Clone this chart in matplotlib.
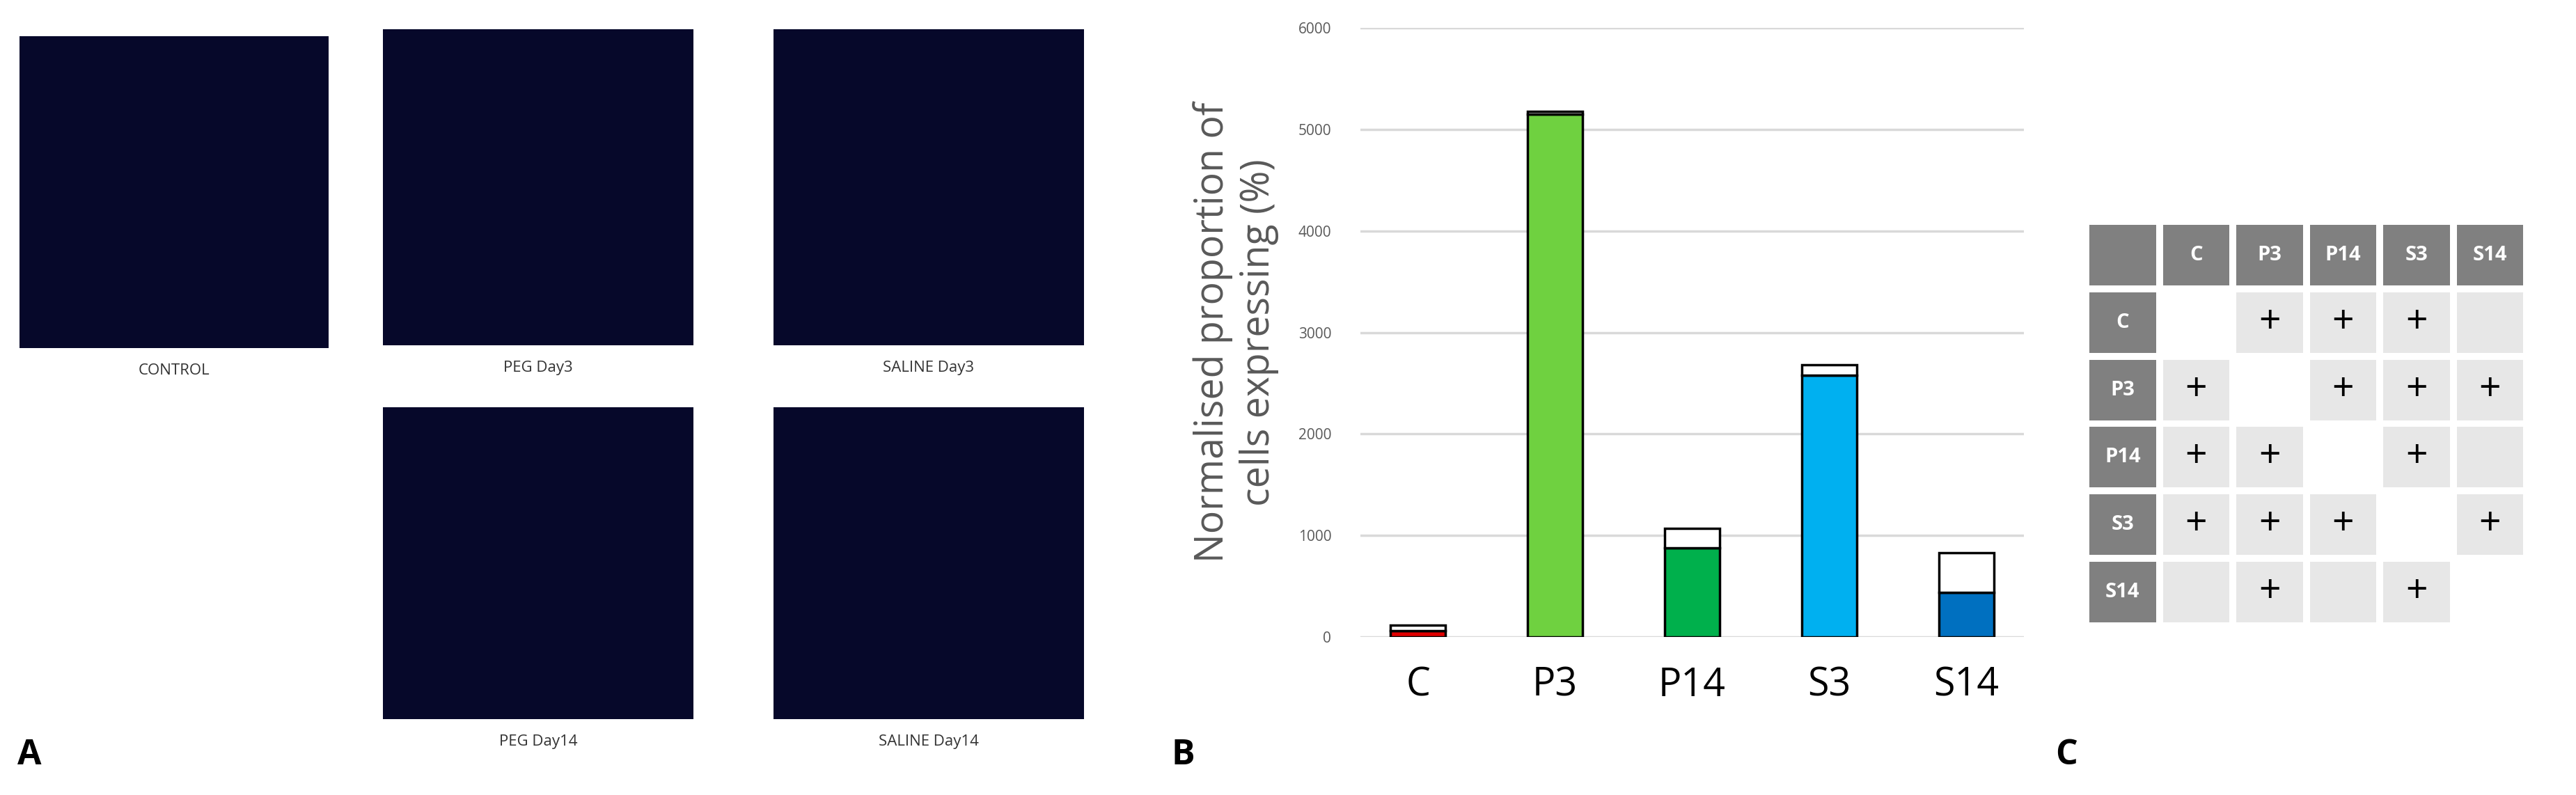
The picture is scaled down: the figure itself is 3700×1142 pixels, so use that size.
import matplotlib
matplotlib.use("Agg")
import matplotlib.pyplot as plt
from matplotlib.patches import Rectangle

W, H = 3700, 1142
categories = ["C", "P3", "P14", "S3", "S14"]
means = [60, 5150, 880, 2580, 440]
tops = [120, 5180, 1070, 2680, 830]
colors = ["#e00000", "#6fd140", "#00b04c", "#00b0f0", "#0070c0"]
yticks = [0, 1000, 2000, 3000, 4000, 5000, 6000]
sig = [[0, 1, 1, 1, 0],
       [1, 0, 1, 1, 1],
       [1, 1, 0, 1, 0],
       [1, 1, 1, 0, 1],
       [0, 1, 0, 1, 0]]
panels = [("CONTROL", 28, 52, 444, 448),
          ("PEG Day3", 550, 42, 446, 454),
          ("SALINE Day3", 1111, 42, 446, 454),
          ("PEG Day14", 550, 585, 446, 448),
          ("SALINE Day14", 1111, 585, 446, 448)]

fig = plt.figure(figsize=(W/100, H/100), dpi=100)
plt.rcParams['font.family'] = ['Open Sans', 'DejaVu Sans']

def fx(x): return x / W
def fy(y): return 1 - y / H

# Panel A: image placeholders
for name, x, y, w, h in panels:
    ax = fig.add_axes([fx(x), fy(y + h), w / W, h / H])
    ax.set_facecolor("#06082a")
    ax.set_xticks([]); ax.set_yticks([])
    for s in ax.spines.values(): s.set_visible(False)
    fig.text(fx(x + w / 2), fy(y + h + 32), name, ha="center", va="center",
             fontsize=16, color="#333333")

# Panel B: bar chart
ax = fig.add_axes([fx(1954), fy(915), (2907 - 1954) / W, (915 - 40) / H])
ax.bar(categories, means, width=0.4, color=colors, edgecolor="black", lw=2.5, zorder=3)
ax.bar(categories, [t - m for t, m in zip(tops, means)], bottom=means, width=0.4,
       color="white", edgecolor="black", lw=2.5, zorder=3)
ax.set_ylim(0, 6000)
ax.set_yticks(yticks)
ax.yaxis.grid(True, color="#d9d9d9", lw=2.5, zorder=0)
for s in ax.spines.values(): s.set_visible(False)
ax.tick_params(axis="y", length=0, labelsize=15, labelcolor="#595959", pad=30)
ax.tick_params(axis="x", length=0, labelsize=40, pad=30)
ax.set_ylabel("Normalised proportion of\ncells expressing (%)", fontsize=40,
              color="#595959", labelpad=20)

# Panel C: table
tx0, ty0, tw, th = 3001, 323, 633, 581
cw, ch = tw / 6, th / 6
gap = 10
for r in range(6):
    for c in range(6):
        x = tx0 + c * cw; y = ty0 + r * ch
        if r == 0 or c == 0:
            fc = "#808080"
        elif r == c:
            continue
        else:
            fc = "#e7e7e7"
        fig.patches.append(Rectangle((fx(x), fy(y + ch - gap)), (cw - gap) / W, (ch - gap) / H,
                                     transform=fig.transFigure, facecolor=fc, edgecolor="none"))
        cxp, cyp = fx(x + (cw - gap) / 2), fy(y + (ch - gap) / 2)
        if r == 0 and c > 0:
            fig.text(cxp, cyp, categories[c - 1], ha="center", va="center", fontsize=21,
                     color="white", fontweight="bold")
        elif c == 0 and r > 0:
            fig.text(cxp, cyp, categories[r - 1], ha="center", va="center", fontsize=21,
                     color="white", fontweight="bold")
        elif r > 0 and c > 0 and sig[r - 1][c - 1]:
            fig.text(cxp, cyp, "+", ha="center", va="center", fontsize=40, color="black")

for lab, x in [("A", 42), ("B", 1699), ("C", 2968)]:
    fig.text(fx(x), fy(1085), lab, ha="center", va="center", fontsize=36, fontweight="bold")

fig.savefig("out.png", dpi=100, facecolor="white")
